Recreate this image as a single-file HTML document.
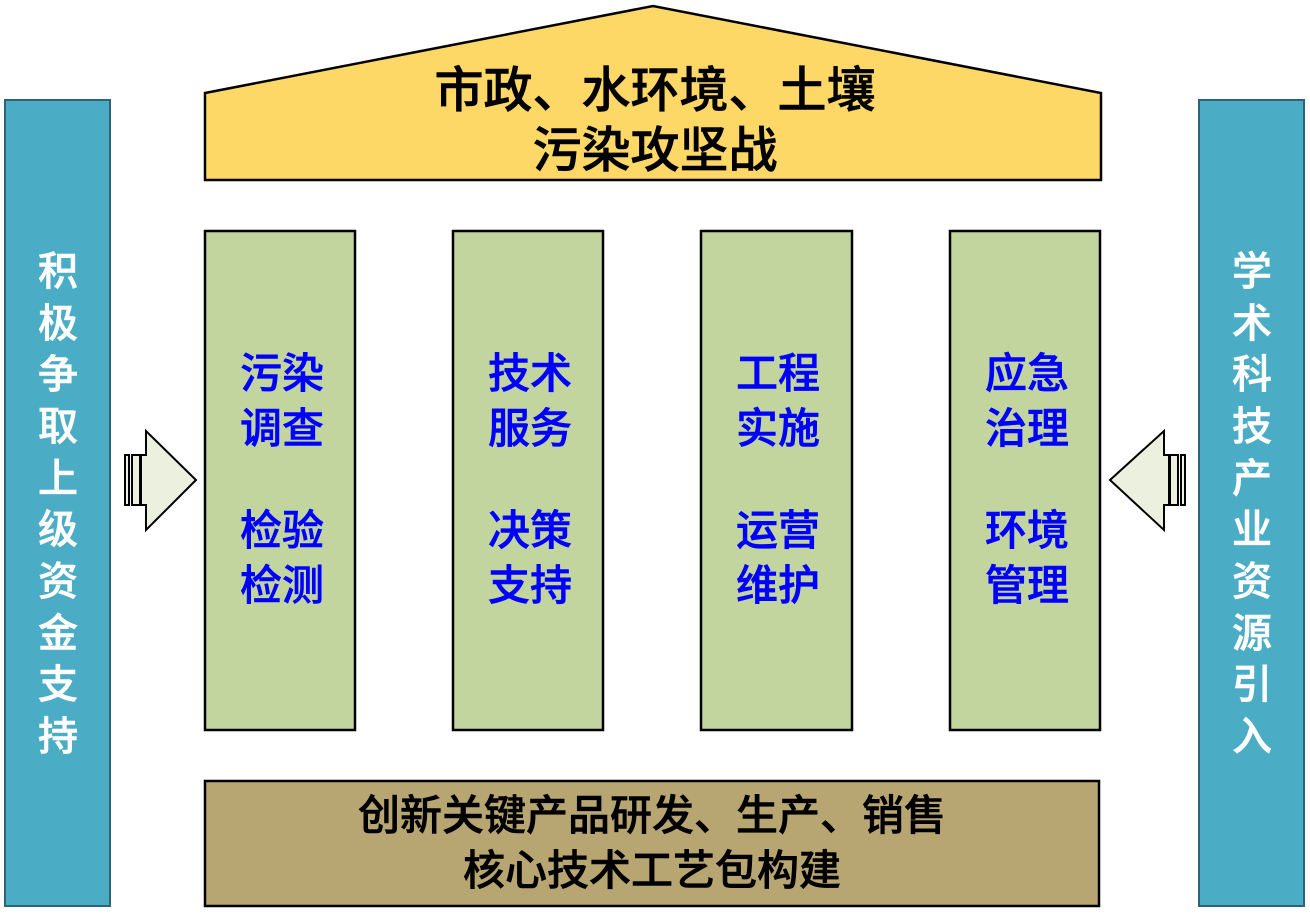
<!DOCTYPE html>
<html><head><meta charset="utf-8"><style>
body{margin:0;background:#fff;}
svg text{font-family:"Liberation Sans","Noto Sans CJK SC",sans-serif;font-weight:500;}
</style></head><body>
<svg width="1310" height="917" viewBox="0 0 1310 917" xmlns="http://www.w3.org/2000/svg">
<rect x="5" y="100" width="105" height="806" fill="#4bacc6" stroke="#2e6479" stroke-width="2"/>
<rect x="1199" y="100" width="105" height="806" fill="#4bacc6" stroke="#2e6479" stroke-width="2"/>
<polygon points="205,93 653,6 1101,93 1101,180 205,180" fill="#fdd866" stroke="#000" stroke-width="2.5"/>
<g stroke-width="0.6">
<text x="655" y="107" font-size="49" text-anchor="middle" fill="#000" stroke="#000">市政、水环境、土壤</text>
<text x="655" y="167" font-size="49" text-anchor="middle" fill="#000" stroke="#000">污染攻坚战</text>
</g>
<g fill="#c3d59f" stroke="#000" stroke-width="2.5">
<rect x="205" y="231" width="150" height="499"/>
<rect x="453" y="231" width="150" height="499"/>
<rect x="701" y="231" width="151" height="499"/>
<rect x="950" y="231" width="150" height="499"/>
</g>
<rect x="205" y="781" width="894" height="125" fill="#b8a672" stroke="#000" stroke-width="2.5"/>
<g stroke-width="0.6" fill="#000" stroke="#000">
<text x="652" y="830" font-size="42" text-anchor="middle">创新关键产品研发、生产、销售</text>
<text x="652" y="885" font-size="42" text-anchor="middle">核心技术工艺包构建</text>
</g>
<g font-size="42" fill="#0000ff" stroke="#0000ff" stroke-width="0.6" text-anchor="middle">
<text x="282" y="388">污染</text><text x="282" y="443">调查</text><text x="282" y="545">检验</text><text x="282" y="600">检测</text>
<text x="530" y="388">技术</text><text x="530" y="443">服务</text><text x="530" y="545">决策</text><text x="530" y="600">支持</text>
<text x="778" y="388">工程</text><text x="778" y="443">实施</text><text x="778" y="545">运营</text><text x="778" y="600">维护</text>
<text x="1027" y="388">应急</text><text x="1027" y="443">治理</text><text x="1027" y="545">环境</text><text x="1027" y="600">管理</text>
</g>
<g font-size="40" fill="#fff" stroke="#fff" stroke-width="0.6" text-anchor="middle">
<text x="58" y="285">积</text><text x="58" y="337">极</text><text x="58" y="388">争</text><text x="58" y="440">取</text><text x="58" y="492">上</text><text x="58" y="543">级</text><text x="58" y="595">资</text><text x="58" y="647">金</text><text x="58" y="698">支</text><text x="58" y="750">持</text>
<text x="1252" y="285">学</text><text x="1252" y="337">术</text><text x="1252" y="388">科</text><text x="1252" y="440">技</text><text x="1252" y="492">产</text><text x="1252" y="543">业</text><text x="1252" y="595">资</text><text x="1252" y="647">源</text><text x="1252" y="698">引</text><text x="1252" y="750">入</text>
</g>
<g fill="#ebf1de" stroke="#000" stroke-width="2">
<rect x="125" y="455" width="4" height="50"/>
<rect x="132" y="455" width="8" height="50"/>
<polygon points="141,455 146,455 146,431 196,480 146,530 146,505 141,505"/>
<rect x="1181" y="455" width="4" height="50"/>
<rect x="1170" y="455" width="8" height="50"/>
<polygon points="1169,455 1164,455 1164,431 1110,480 1164,530 1164,505 1169,505"/>
</g>
</svg>
</body></html>
